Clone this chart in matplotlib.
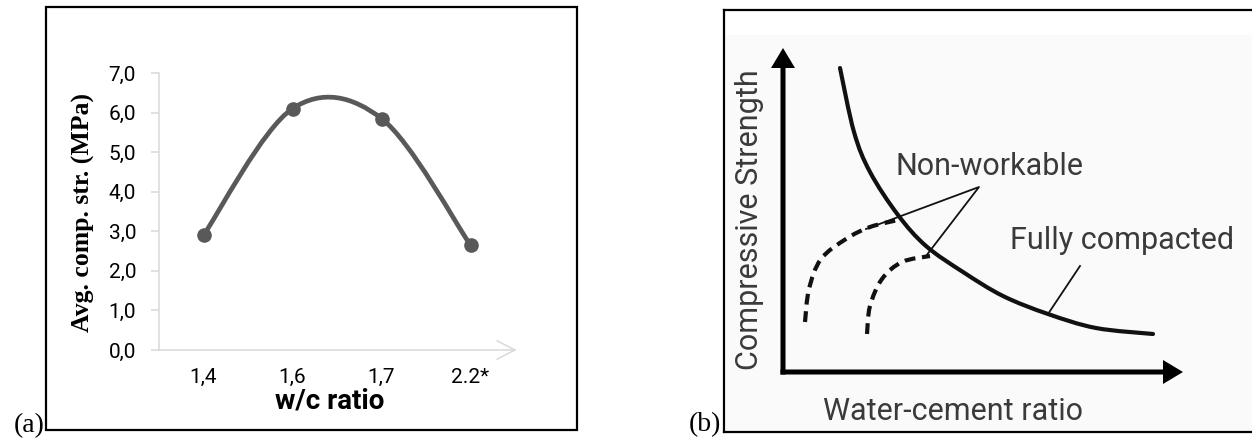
import numpy as np
import matplotlib.pyplot as plt
from matplotlib.path import Path
from matplotlib.patches import PathPatch, Rectangle

# (a) measured average compressive strength
wc_labels = ["1,4", "1,6", "1,7", "2.2*"]
avg_strength = [2.9, 6.1, 5.85, 2.65]
y_ticks = [0, 1, 2, 3, 4, 5, 6, 7]
y_tick_labels = ["0,0", "1,0", "2,0", "3,0", "4,0", "5,0", "6,0", "7,0"]

# (b) schematic curves (arbitrary diagram units)
full_x = [0.57, 0.71, 0.87, 1.15, 1.43, 1.80, 2.20, 2.65, 3.13, 3.70]
full_y = [3.04, 2.40, 2.00, 1.57, 1.26, 1.00, 0.76, 0.58, 0.44, 0.38]
nonwork1_x = [0.22, 0.26, 0.38, 0.63, 0.87, 1.15]
nonwork1_y = [0.50, 0.83, 1.13, 1.33, 1.45, 1.52]
nonwork2_x = [0.84, 0.87, 0.99, 1.19, 1.47]
nonwork2_y = [0.38, 0.66, 0.93, 1.10, 1.16]

W, H = 1252, 441


def px_rect(x0, y0, x1, y1):
    # pixel box (top-left origin) -> figure fraction
    return [x0 / W, 1 - y1 / H, (x1 - x0) / W, (y1 - y0) / H]


def smooth_path(xs, ys):
    # excel-like smoothed line: cubic bezier segments through the points
    p = np.column_stack([xs, ys]).astype(float)
    ext = np.vstack([p[0], p, p[-1]])
    verts = [p[0]]
    codes = [Path.MOVETO]
    for i in range(len(p) - 1):
        c1 = ext[i + 1] + (ext[i + 2] - ext[i]) / 6
        c2 = ext[i + 2] - (ext[i + 3] - ext[i + 1]) / 6
        verts += [c1, c2, ext[i + 2]]
        codes += [Path.CURVE4] * 3
    return Path(verts, codes)


fig = plt.figure(figsize=(12.52, 4.41), dpi=100)

# ---------- (a) ----------
fig.add_artist(Rectangle((46 / W, 1 - 430 / H), (577 - 46) / W, (430 - 6.5) / H,
                         transform=fig.transFigure, fill=False, lw=1.6, ec="black"))

ax = fig.add_axes(px_rect(159, 73, 515, 350))
xs = np.arange(len(wc_labels))
grey = "#595959"
ax.add_patch(PathPatch(smooth_path(xs, avg_strength), fill=False, ec=grey, lw=3.4,
                       capstyle="round", zorder=3))
ax.plot(xs, avg_strength, "o", color=grey, ms=9.5, zorder=4)

ax.set_xlim(-0.5, 3.5)
ax.set_ylim(0, 7)
ax.set_xticks(xs)
ax.set_xticklabels(wc_labels)
ax.set_yticks(y_ticks)
ax.set_yticklabels(y_tick_labels)
for s in ["top", "right"]:
    ax.spines[s].set_visible(False)
for s in ["left", "bottom"]:
    ax.spines[s].set_color("#d9d9d9")
    ax.spines[s].set_linewidth(1.1)
ax.tick_params(axis="y", direction="out", length=5.5, width=1.1, color="#d9d9d9",
               pad=11, labelsize=15, labelfontfamily="Roboto")
ax.tick_params(axis="x", length=0, pad=13, labelsize=15, labelfontfamily="Roboto")
# open arrow head at end of x axis
ax.plot([3.3, 3.5, 3.3], [0.23, 0, -0.23], color="#d9d9d9", lw=1.1, clip_on=False)

fig.text(330 / W, 1 - 408 / H, "w/c ratio", ha="center", va="baseline",
         fontsize=20, fontweight="bold", family="Roboto")
fig.text(83 / W, 1 - 212 / H, "Avg. comp. str. (MPa)", rotation=90, ha="center",
         va="center", fontsize=18.5, fontweight="bold", family="Liberation Serif")
fig.text(45 / W, 1 - 432 / H, "(a)", ha="right", va="baseline", fontsize=20,
         family="Liberation Serif")

# ---------- (b) ----------
bx = fig.add_axes(px_rect(724, 10, 1262, 432))
bx.set_xlim((724 - 783) / 100, (1262 - 783) / 100)
bx.set_ylim((372 - 432) / 100, (372 - 10) / 100)
bx.set_xticks([])
bx.set_yticks([])
bx.spines["right"].set_visible(False)
for s in ["top", "left", "bottom"]:
    bx.spines[s].set_linewidth(1.6)
bx.add_patch(Rectangle((-0.57, -0.60), 5.4, 3.97, fc="#fafafa", ec="none", zorder=0))

bx.arrow(0, -0.025, 0, 3.265, width=0.05, head_width=0.24, head_length=0.2,
         length_includes_head=True, fc="black", ec="none")
bx.arrow(-0.025, 0, 4.025, 0, width=0.05, head_width=0.24, head_length=0.2,
         length_includes_head=True, fc="black", ec="none")

bx.add_patch(PathPatch(smooth_path(full_x, full_y), fill=False, ec="#111111", lw=3.0,
                       capstyle="round"))
for cx, cy in [(nonwork1_x, nonwork1_y), (nonwork2_x, nonwork2_y)]:
    bx.add_patch(PathPatch(smooth_path(cx, cy), fill=False, ec="#111111", lw=3.0,
                           linestyle=(0, (2.6, 1.6))))

# leader lines
bx.plot([0.83, 1.96, 1.43], [1.43, 1.85, 1.16], color="#111111", lw=1.3)
bx.plot([2.65, 2.97], [0.58, 1.06], color="#111111", lw=1.3)

txt = dict(fontsize=22, family="Roboto", color="#3a3a3a")
bx.text(-0.34, 1.52, "Compressive Strength", rotation=90, ha="center", va="center", **txt)
bx.text(1.70, -0.48, "Water-cement ratio", ha="center", va="baseline", **txt)
bx.text(2.07, 1.97, "Non-workable", ha="center", va="baseline", **txt)
bx.text(3.39, 1.23, "Fully compacted", ha="center", va="baseline", **txt)

fig.text(721 / W, 1 - 431 / H, "(b)", ha="right", va="baseline", fontsize=20,
         family="Liberation Serif")

fig.savefig("out.png", dpi=100)
